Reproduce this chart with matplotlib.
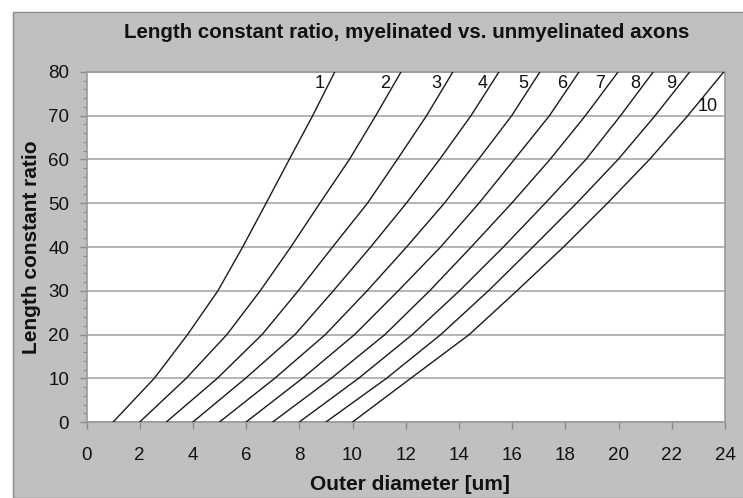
import matplotlib
matplotlib.use("Agg")
import matplotlib.pyplot as plt
from matplotlib.patches import Rectangle
import numpy as np

plt.rcParams['font.family'] = ['Liberation Sans', 'DejaVu Sans']

# Length constant ratio levels (y) at which each curve's outer diameter was read
ratio_levels = [0, 10, 20, 30, 40, 50, 60, 70, 80]
curve_labels = ['1', '2', '3', '4', '5', '6', '7', '8', '9', '10']

# Outer diameter [um] of each curve at the ratio levels above
d1 = [1, 2.55, 3.80, 4.94, 5.87, 6.75, 7.62, 8.50, 9.33]
d2 = [2, 3.75, 5.28, 6.53, 7.68, 8.77, 9.88, 10.87, 11.82]
d3 = [3, 4.92, 6.60, 7.96, 9.25, 10.56, 11.68, 12.78, 13.77]
d4 = [4, 5.98, 7.84, 9.28, 10.68, 12.02, 13.27, 14.45, 15.50]
d5 = [5, 7.08, 8.98, 10.55, 12.03, 13.45, 14.73, 15.98, 17.04]
d6 = [6, 8.12, 10.08, 11.72, 13.31, 14.75, 16.08, 17.40, 18.51]
d7 = [7, 9.20, 11.22, 12.90, 14.46, 15.98, 17.42, 18.75, 19.98]
d8 = [8, 10.23, 12.25, 14.02, 15.67, 17.24, 18.77, 20.07, 21.30]
d9 = [9, 11.28, 13.32, 15.11, 16.78, 18.42, 19.98, 21.37, 22.67]
d10 = [10, 12.19, 14.39, 16.18, 17.93, 19.58, 21.16, 22.60, 23.95]
curves = [d1, d2, d3, d4, d5, d6, d7, d8, d9, d10]

x_ticks = list(range(0, 25, 2))
y_ticks = list(range(0, 81, 10))

W, H = 743, 498
fig = plt.figure(figsize=(W / 100, H / 100), dpi=100)
fig.patch.set_facecolor('white')
bg = Rectangle((13 / W, 0), 1 - 13 / W + 0.01, 1 - 12 / H, transform=fig.transFigure,
               facecolor='#c0c0c0', edgecolor='#8c8c8c', linewidth=1.0, zorder=-10)
fig.patches.append(bg)

ax = fig.add_axes([86.5 / W, 1 - 422 / H, (725 - 86.5) / W, (422 - 72) / H])
ax.set_zorder(5)
ax.set_facecolor('white')

for d in curves:
    ax.plot(d, ratio_levels, color='#1a1a1a', linewidth=1.0, zorder=3)

# curve labels
for i, (d, lab) in enumerate(zip(curves, curve_labels)):
    if i < 9:
        yl = 77.4
        xl = np.interp(yl, ratio_levels, d)
        ax.annotate(lab, (xl, yl), xytext=(-3, 0), textcoords='offset points',
                    ha='right', va='center', fontsize=13, color='#111111')
    else:
        yl = 72.1
        xl = np.interp(yl, ratio_levels, d)
        ax.annotate(lab, (xl, yl), xytext=(2, 0), textcoords='offset points',
                    ha='left', va='center', fontsize=13, color='#111111')

ax.set_xlim(0, 24)
ax.set_ylim(0, 80)
ax.set_xticks(x_ticks)
ax.set_yticks(y_ticks)
ax.set_yticks(np.arange(0, 81, 2), minor=True)
ax.yaxis.grid(True, which='major', color='#a8a8a8', linewidth=1.2)
ax.set_axisbelow(True)
ax.tick_params(axis='both', which='major', labelsize=13.5, colors='#8a8a8a',
               labelcolor='#111111', length=5, width=1, direction='out')
ax.tick_params(axis='x', which='major', pad=13)
ax.tick_params(axis='y', which='major', pad=7.5)
ax.tick_params(axis='y', which='minor', length=3, width=0.8, colors='#8a8a8a')
for s in ax.spines.values():
    s.set_color('#9a9a9a')
    s.set_linewidth(1.2)

fig.text(0.548, 1 - 33 / H, 'Length constant ratio, myelinated vs. unmyelinated axons',
         ha='center', va='center', fontsize=14.8, fontweight='bold', color='#111111')
fig.text(410 / W, 1 - 484 / H, 'Outer diameter [um]', ha='center', va='center',
         fontsize=15, fontweight='bold', color='#111111')
fig.text(32 / W, 1 - 247 / H, 'Length constant ratio', ha='center', va='center',
         rotation=90, fontsize=15, fontweight='bold', color='#111111')

fig.savefig('out.png', dpi=100, facecolor=fig.get_facecolor())
